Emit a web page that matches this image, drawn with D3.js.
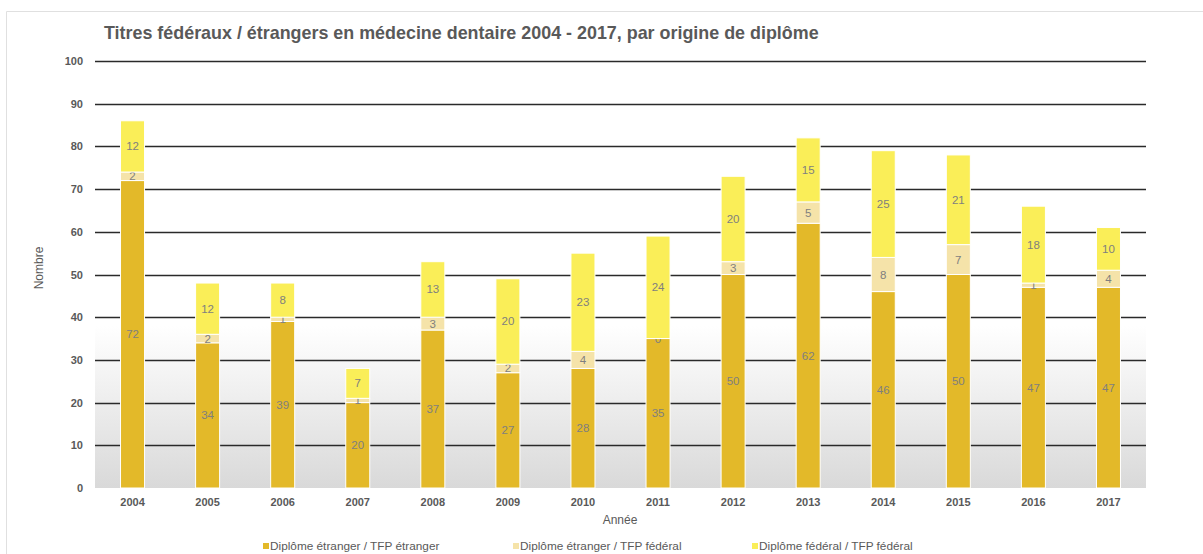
<!DOCTYPE html>
<html><head><meta charset="utf-8">
<script src="https://cdn.jsdelivr.net/npm/d3@7"></script>
<style>body{margin:0;background:#fff;font-family:"Liberation Sans",Arial,sans-serif;}</style>
</head><body><svg id="c" width="1203" height="554"></svg>
<script>
const years = ["2004","2005","2006","2007","2008","2009","2010","2011","2012","2013","2014","2015","2016","2017"];
const etrEtr = [72,34,39,20,37,27,28,35,50,62,46,50,47,47];
const etrFed = [2,2,1,1,3,2,4,0,3,5,8,7,1,4];
const fedFed = [12,12,8,7,13,20,23,24,20,15,25,21,18,10];
const seriesNames = ["Diplôme étranger / TFP étranger","Diplôme étranger / TFP fédéral","Diplôme fédéral / TFP fédéral"];
const colors = ["#E3B929","#F5E3A9","#FAEE58"];
const yTicks = [0,10,20,30,40,50,60,70,80,90,100];

const svg = d3.select("#c");
// frame
svg.append("path").attr("d","M6.5,554 V11.5 H1203").attr("fill","none").attr("stroke","#e0e0e0").attr("stroke-width",1);

const m = {l:95, r:1146, t:61, b:488};
const x = d3.scaleBand().domain(years).range([m.l,m.r]).paddingInner(0.68).paddingOuter(0.34);
const y = d3.scaleLinear().domain([0,100]).range([m.b,m.t]);

const defs = svg.append("defs");
const g = defs.append("linearGradient").attr("id","bg").attr("x1",0).attr("y1",0).attr("x2",0).attr("y2",1);
g.append("stop").attr("offset","0%").attr("stop-color","#ffffff");
g.append("stop").attr("offset","100%").attr("stop-color","#d9d9d9");
svg.append("rect").attr("x",m.l).attr("y",y(38)).attr("width",m.r-m.l).attr("height",m.b-y(38)).attr("fill","url(#bg)");

// grid
svg.append("g").selectAll("line").data(yTicks.filter(d=>d>0)).join("line")
  .attr("x1",m.l).attr("x2",m.r).attr("y1",d=>Math.round(y(d))+0.5).attr("y2",d=>Math.round(y(d))+0.5)
  .attr("stroke","#2a2a2a").attr("stroke-width",1.3);

// y axis labels
const yAxis = d3.axisLeft(y).tickValues(yTicks).tickSize(0).tickPadding(12);
const ya = svg.append("g").attr("transform",`translate(${m.l},0)`).call(yAxis);
ya.select(".domain").remove();
ya.selectAll("text").attr("font-family","Liberation Sans, Arial, sans-serif").attr("font-size",11).attr("font-weight","bold").attr("fill","#595959");

// x axis
const xAxis = d3.axisBottom(x).tickSize(0).tickPadding(10);
const xa = svg.append("g").attr("transform",`translate(0,${m.b})`).call(xAxis);
xa.select(".domain").remove();
xa.selectAll("text").attr("font-family","Liberation Sans, Arial, sans-serif").attr("font-size",11).attr("font-weight","bold").attr("fill","#595959");

// stacks
const rows = years.map((yr,i)=>({year:yr,s0:etrEtr[i],s1:etrFed[i],s2:fedFed[i]}));
const stack = d3.stack().keys(["s0","s1","s2"])(rows);
stack.forEach((layer,li)=>{
  const gl = svg.append("g");
  gl.selectAll("rect").data(layer).join("rect")
    .attr("x",d=>x(d.data.year)).attr("width",x.bandwidth())
    .attr("y",d=>y(d[1])).attr("height",d=>y(d[0])-y(d[1]))
    .attr("fill",colors[li]).attr("stroke","#fff").attr("stroke-width",1);
  gl.selectAll("text").data(layer).join("text")
    .attr("x",d=>x(d.data.year)+x.bandwidth()/2)
    .attr("y",d=>(y(d[0])+y(d[1]))/2+4)
    .attr("text-anchor","middle").attr("font-size",11.5).attr("fill","#7f7f7f")
    .text(d=>d[1]-d[0]);
});

// title
svg.append("text").attr("x",104).attr("y",39).attr("font-size",17.9).attr("font-weight","bold").attr("fill","#595959")
  .text("Titres fédéraux / étrangers en médecine dentaire 2004 - 2017, par origine de diplôme");
// axis titles
svg.append("text").attr("transform","translate(43,268) rotate(-90)").attr("text-anchor","middle").attr("font-size",12).attr("fill","#595959").text("Nombre");
svg.append("text").attr("x",620).attr("y",524).attr("text-anchor","middle").attr("font-size",12).attr("fill","#595959").text("Année");

// legend
const lx = [263,513,752];
const lg = svg.append("g");
seriesNames.forEach((n,i)=>{
  lg.append("rect").attr("x",lx[i]).attr("y",543).attr("width",6).attr("height",6).attr("fill",colors[i]);
  lg.append("text").attr("x",lx[i]+7).attr("y",550).attr("font-size",11.8).attr("fill","#595959").text(n);
});
</script></body></html>
